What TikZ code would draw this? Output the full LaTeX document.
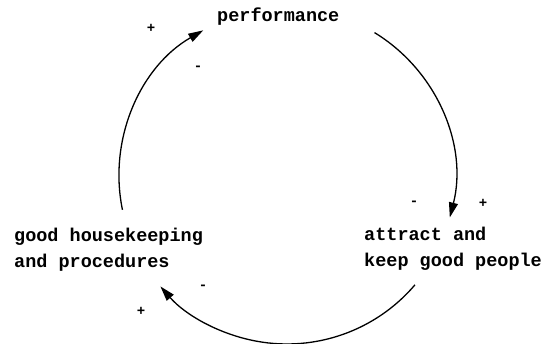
\documentclass[tikz,border=0pt]{standalone}
\usepackage{fontspec}
\setmonofont{Liberation Mono}
\usetikzlibrary{arrows.meta,calc}
\begin{document}
\begin{tikzpicture}[x=1pt,y=1pt,
  lbl/.style={font=\ttfamily\bfseries\fontsize{18.5}{26}\selectfont, inner sep=0pt, anchor=base west, align=left},
  sgn/.style={font=\ttfamily\bfseries\fontsize{14}{14}\selectfont, inner sep=0pt},
  link/.style={line width=1.3pt, -{Triangle[length=15pt,width=9pt]}}]
\useasboundingbox (0,0) rectangle (552,344);
\coordinate (c) at (287,168);
\node[lbl] (perf) at (217,322) {performance};
\node[lbl] (house) at (14,76) {good housekeeping\\and procedures};
\node[lbl] (people) at (364,77) {attract and\\keep good people};
% arc end points on the loop
\coordinate (a1s) at ($(c)+(58.6:168)$);
\coordinate (a2s) at ($(c)+(-40.4:168)$);
\coordinate (a3s) at ($(c)+(191.6:168)$);
\draw[link] (a1s) arc[start angle=58.6, end angle=-14.3, radius=168];
\draw[link] (a2s) arc[start angle=-40.4, end angle=-138.9, radius=168];
\draw[link] (a3s) arc[start angle=191.6, end angle=119.9, radius=168];
% signs
\node[sgn] (s1) at (151,316) {+};
\node[sgn] (s2) at (198,276) {-};
\node[sgn] (s3) at (414,141) {-};
\node[sgn] (s4) at (483,141) {+};
\node[sgn] (s5) at (203,57) {-};
\node[sgn] (s6) at (141,33) {+};
\end{tikzpicture}
\end{document}
